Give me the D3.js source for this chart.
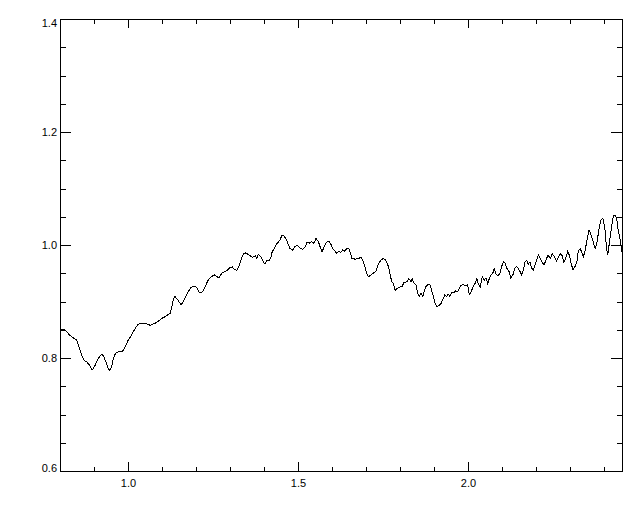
<!DOCTYPE html>
<html lang="en">
<head>
  <meta charset="UTF-8">
  <title>Spectrum plot</title>
  <script src="https://cdn.jsdelivr.net/npm/d3@7/dist/d3.min.js"></script>
  <style>
    body { margin: 0; background: #fff; }
    svg text { font: 11px "Liberation Sans", Arial, sans-serif; fill: #000; }
    .axis line { stroke: #000; shape-rendering: crispEdges; }
  </style>
</head>
<body>
<script>
  // wavelength (x) and relative flux (y)
  var wave = [
    0.800,0.810,0.820,0.827,0.834,0.841,0.849,0.854,0.859,0.864,
    0.871,0.879,0.886,0.894,0.898,0.904,0.910,0.918,0.924,0.929,
    0.935,0.941,0.947,0.952,0.957,0.963,0.971,0.981,0.988,0.994,
    1.001,1.008,1.016,1.024,1.030,1.040,1.050,1.057,1.065,1.073,
    1.079,1.086,1.094,1.102,1.109,1.116,1.124,1.129,1.133,
    1.138,1.146,1.156,1.163,1.170,1.177,1.185,1.195,1.202,1.209,
    1.215,1.221,1.229,1.236,1.246,1.254,1.261,1.268,1.276,1.285,
    1.293,1.300,1.307,1.313,1.320,1.326,1.332,1.339,1.346,1.352,
    1.359,1.366,1.374,1.379,1.383,1.391,1.398,1.403,1.408,1.415,
    1.421,1.424,1.430,1.435,1.442,1.447,1.452,1.458,1.464,1.470,1.476,
    1.484,1.491,1.498,1.506,1.514,1.521,1.527,1.533,1.540,1.547,
    1.553,1.560,1.565,1.571,1.577,1.584,1.591,1.597,1.602,1.609,
    1.614,1.620,1.626,1.631,1.636,1.643,1.649,1.653,1.659,1.668,
    1.677,1.685,1.690,1.697,1.702,1.707,1.715,1.721,1.729,1.736,
    1.743,1.751,1.758,1.766,1.771,1.776,1.780,1.786,1.792,1.800,1.806,1.812,
    1.821,1.826,1.832,1.836,1.842,1.847,1.852,1.857,1.862,1.867,
    1.871,1.876,1.883,1.888,1.893,1.898,1.903,1.908,1.915,1.921,
    1.926,1.932,1.937,1.942,1.947,1.952,1.958,1.964,1.970,1.974,
    1.979,1.986,1.993,1.999,2.004,2.009,2.015,2.021,2.026,2.030,
    2.036,2.042,2.048,2.053,2.058,2.063,2.068,2.073,2.077,2.081,
    2.087,2.093,2.099,2.104,2.109,2.114,2.121,2.126,2.133,2.138,
    2.143,2.148,
    2.153,2.158,2.163,2.168,2.173,2.177,2.182,2.187,2.192,2.199,
    2.207,2.213,2.219,2.224,2.231,2.236,2.242,2.248,2.254,2.260,
    2.266,2.271,2.277,2.282,2.287,2.293,2.298,2.303,2.309,2.315,
    2.321,2.324,2.330,2.334,2.339,2.344,2.350,2.356,2.362,2.368,
    2.374,2.379,2.385,2.391,2.397,2.403,2.407,2.411,2.417,2.423,
    2.428,2.434,2.438,2.442,2.446,2.450,2.452
  ];
  var flux = [
    0.851,0.851,0.847,0.841,0.838,0.835,0.832,0.823,0.814,0.805,
    0.796,0.793,0.788,0.779,0.781,0.788,0.796,0.804,0.807,0.802,
    0.793,0.782,0.778,0.785,0.799,0.808,0.811,0.811,0.815,0.823,
    0.832,0.838,0.847,0.855,0.860,0.861,0.861,0.860,0.858,0.860,
    0.861,0.864,0.867,0.871,0.873,0.876,0.879,0.891,0.903,
    0.909,0.903,0.894,0.900,0.909,0.917,0.925,0.927,0.925,0.917,
    0.915,0.919,0.929,0.938,0.944,0.947,0.944,0.942,0.950,0.953,
    0.956,0.960,0.961,0.957,0.955,0.962,0.973,0.984,0.986,0.984,
    0.981,0.978,0.981,0.976,0.984,0.979,0.970,0.966,0.973,0.972,
    0.979,0.988,0.993,1.000,1.005,1.009,1.016,1.016,1.012,1.003,0.994,
    0.991,0.997,0.999,0.995,0.992,0.997,1.005,1.003,1.006,1.003,
    1.012,1.006,0.997,0.988,0.997,1.005,1.007,1.001,0.994,0.989,
    0.985,0.989,0.987,0.991,0.989,0.993,0.994,0.988,0.976,0.975,
    0.976,0.978,0.973,0.962,0.950,0.944,0.947,0.950,0.953,0.965,
    0.973,0.976,0.973,0.962,0.947,0.935,0.932,0.920,0.923,0.926,0.926,0.934,
    0.935,0.941,0.935,0.940,0.932,0.929,0.915,0.909,0.915,0.909,
    0.917,0.926,0.931,0.929,0.920,0.909,0.897,0.891,0.893,0.897,
    0.904,0.912,0.909,0.913,0.909,0.916,0.915,0.919,0.917,0.923,
    0.928,0.930,0.928,0.930,0.912,0.917,0.926,0.932,0.941,0.932,
    0.926,0.944,0.938,0.942,0.932,0.941,0.947,0.950,0.959,0.950,
    0.946,0.948,0.962,0.970,0.968,0.959,0.953,0.942,0.948,0.959,
    0.962,0.958,
    0.953,0.947,0.956,0.970,0.973,0.965,0.970,0.959,0.956,0.968,
    0.982,0.976,0.968,0.965,0.976,0.982,0.976,0.985,0.979,0.972,
    0.978,0.985,0.981,0.970,0.976,0.988,0.982,0.968,0.956,0.962,
    0.973,0.988,0.994,0.988,0.979,0.988,1.009,1.027,1.018,1.006,
    0.994,1.003,1.027,1.044,1.047,1.027,0.997,0.982,1.009,1.035,
    1.053,1.053,1.044,1.024,1.015,1.000,0.988
  ];

  // ticks
  var xMajor = [1.0, 1.5, 2.0];
  var xMinor = [0.9, 1.1, 1.2, 1.3, 1.4, 1.6, 1.7, 1.8, 1.9, 2.1, 2.2, 2.3, 2.4];
  var yMajor = [0.6, 0.8, 1.0, 1.2, 1.4];
  var yMinor = [0.65, 0.7, 0.75, 0.85, 0.9, 0.95, 1.05, 1.1, 1.15, 1.25, 1.3, 1.35];

  var width = 640, height = 512;
  var plotL = 60, plotR = 622, plotT = 19, plotB = 471;   // plot frame in px

  var x = d3.scaleLinear().domain([0.8, 2.453]).range([plotL, plotR]);
  var y = d3.scaleLinear().domain([0.6, 1.4]).range([plotB, plotT]);

  var svg = d3.select("body").append("svg")
      .attr("width", width)
      .attr("height", height);

  var fmt = d3.format(".1f");

  // helper: add an axis, drop the domain path, restyle text
  function addAxis(axis, tx, ty) {
    var g = svg.append("g")
        .attr("class", "axis")
        .attr("transform", "translate(" + tx + "," + ty + ")")
        .call(axis);
    g.select(".domain").remove();
    g.attr("font-size", null).attr("font-family", null);
    return g;
  }

  // bottom (labels + inward ticks)
  addAxis(d3.axisBottom(x).tickValues(xMajor).tickSize(-9).tickPadding(8).tickFormat(fmt), 0, plotB);
  addAxis(d3.axisBottom(x).tickValues(xMinor).tickSize(-4.5).tickFormat(""), 0, plotB);
  // top
  addAxis(d3.axisTop(x).tickValues(xMajor).tickSize(-9).tickFormat(""), 0, plotT);
  addAxis(d3.axisTop(x).tickValues(xMinor).tickSize(-4.5).tickFormat(""), 0, plotT);
  // left
  var gl = addAxis(d3.axisLeft(y).tickValues(yMajor).tickSize(-11).tickPadding(3).tickFormat(fmt), plotL, 0);
  addAxis(d3.axisLeft(y).tickValues(yMinor).tickSize(-5.5).tickFormat(""), plotL, 0);
  // right
  addAxis(d3.axisRight(y).tickValues(yMajor).tickSize(-11).tickFormat(""), plotR, 0);
  addAxis(d3.axisRight(y).tickValues(yMinor).tickSize(-5.5).tickFormat(""), plotR, 0);

  // keep end labels inside the frame, like the original
  gl.selectAll("text").attr("dy", function(d) {
    if (d === 1.4) return "0.7em";
    if (d === 0.6) return "0.05em";
    return "0.32em";
  });

  // frame
  svg.append("rect")
      .attr("x", plotL).attr("y", plotT)
      .attr("width", plotR - plotL).attr("height", plotB - plotT)
      .attr("fill", "none")
      .attr("stroke", "#000")
      .attr("shape-rendering", "crispEdges");

  svg.append("clipPath").attr("id", "clip")
    .append("rect")
      .attr("x", plotL).attr("y", plotT)
      .attr("width", plotR - plotL).attr("height", plotB - plotT);

  var line = d3.line()
      .x(function(d, i) { return x(wave[i]); })
      .y(function(d, i) { return y(flux[i]); });

  // aliased 1px trace, like the original device output
  svg.append("path")
      .datum(flux)
      .attr("clip-path", "url(#clip)")
      .attr("fill", "none")
      .attr("stroke", "#000")
      .attr("stroke-width", 1)
      .attr("shape-rendering", "crispEdges")
      .attr("d", line);
</script>
</body>
</html>
